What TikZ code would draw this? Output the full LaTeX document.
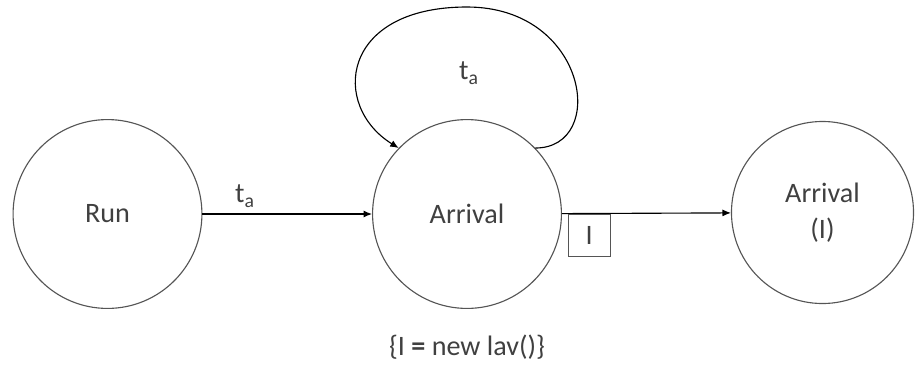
\documentclass[tikz,border=0pt]{standalone}
\usepackage{fontspec}
\setmainfont{Carlito}
\usepackage{tikz}
\usetikzlibrary{arrows.meta,positioning}
\definecolor{inkgray}{RGB}{64,64,64}
\definecolor{rimgray}{RGB}{85,85,85}
\tikzset{every picture/.style={line width=.8pt}}

\begin{document}
\begin{tikzpicture}[x=.025cm,y=-.025cm,>={Latex[length=6pt,width=5pt]},
 every node/.style={font=\fontsize{20}{26}\selectfont,text=inkgray},
 event/.style={circle,draw=rimgray,inner sep=0pt,minimum size=4.72cm},
 lbox/.style={draw=rimgray,line width=.6pt,minimum size=30pt,inner sep=0pt}]
 \useasboundingbox (0,0) rectangle (915,370);
 % the three event vertices, in pixel units of the sketch
 \node[event] (run) at (107.5,214) {Run};
 \node[event] (arr) at (467,214) {Arrival};
 \node[event,minimum size=4.55cm,align=center] (arrl) at (822.5,212.5)
  {Arrival\\(I)};

 \draw[->] (run) -- (arr) node[pos=.25,above=1pt] {t\textsubscript{a}};

 % self-loop on Arrival, closed over its top
 \coordinate (looptop) at (467,7);
 \draw[->] (arr.44) .. controls +(73,0) and +(121,0) .. (looptop)
  .. controls +(-127,0) and +(-68,-42) .. (arr.136);
 \node (loopl) at (469,73) {t\textsubscript{a}};

 \draw[->] (arr) -- (arrl);
 \node[lbox,anchor=north west,xshift=4pt] (lnode) at (arr.east) {I};
 \node (newl) at (467,347) {\{I \textbf{=} new lav()\}};
\end{tikzpicture}
\end{document}
